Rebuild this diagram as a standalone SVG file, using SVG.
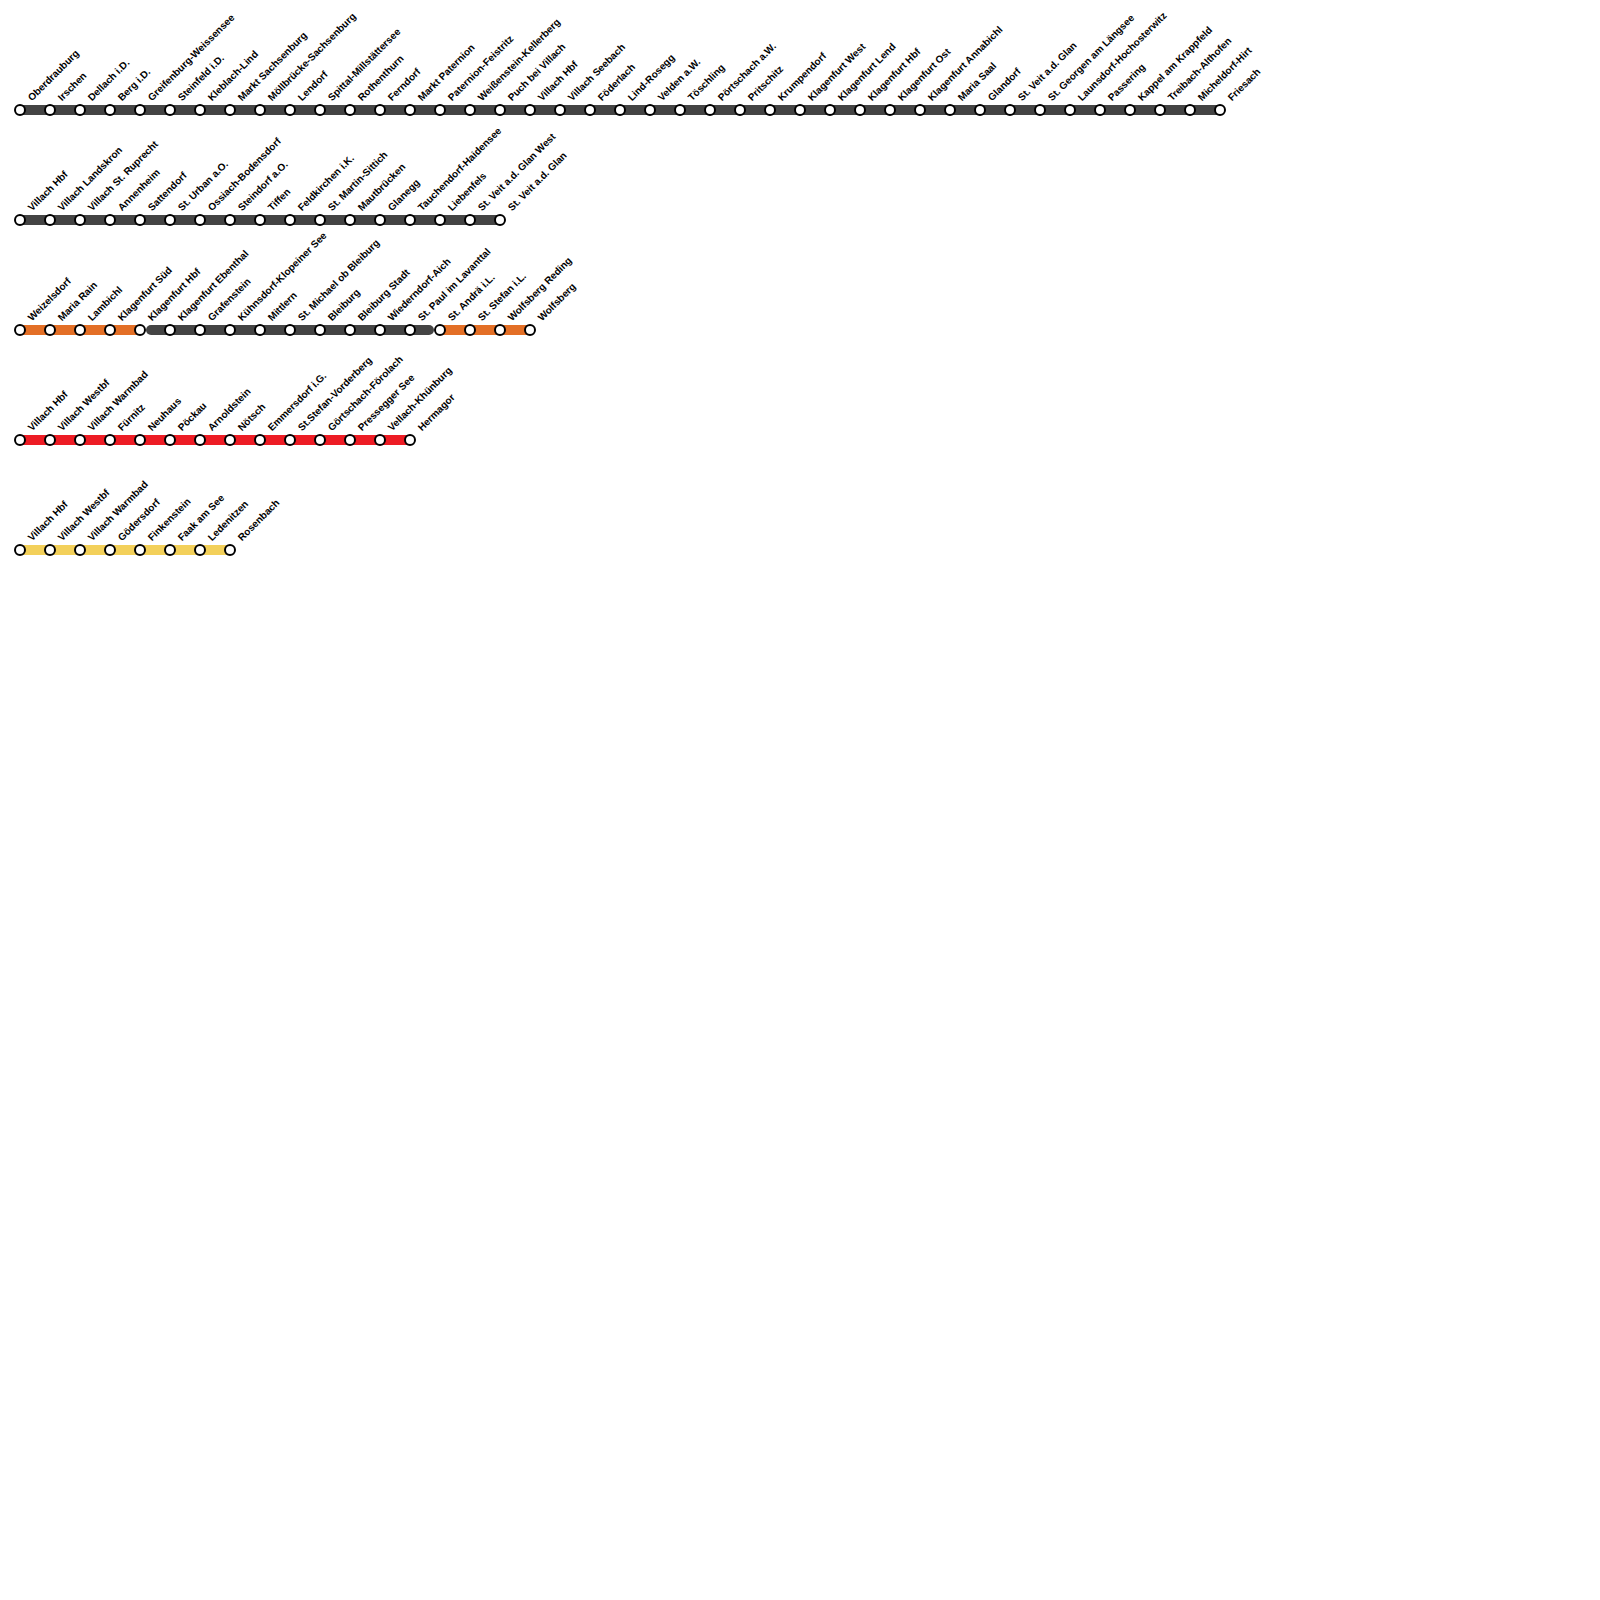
<svg xmlns="http://www.w3.org/2000/svg" width="1600" height="1600" viewBox="0 0 1600 1600">
<style>
.c{fill:none;stroke-width:10}
.d{stroke:#444}
.o{stroke:#e36f26}
.r{stroke:#ed1c24}
.y{stroke:#f3d05a}
.s circle{fill:#fff;stroke:#000;stroke-width:2;r:5px}
.s text{font-family:"Liberation Sans",Arial,sans-serif;font-size:10px;font-weight:700;fill:#000;text-rendering:geometricPrecision}
rect{fill:#fff}
</style>
<rect width="1600" height="1600"/>
<g id="connectors">
<path class="c d" d="M20 110H1220"/>
<path class="c d" d="M20 220H500"/>
<path class="c o" d="M20 330H140"/>
<path class="c d" stroke-linecap="round" d="M151 330H429"/>
<path class="c o" d="M440 330H530"/>
<path class="c r" d="M20 440H410"/>
<path class="c y" d="M20 550H230"/>
</g>
<g id="line1" class="s">
<g id="n1-0"><circle cx="20" cy="110"/><text transform="translate(32 101.5) rotate(-45)">Oberdrauburg</text></g>
<g id="n1-1"><circle cx="50" cy="110"/><text transform="translate(62 101.5) rotate(-45)">Irschen</text></g>
<g id="n1-2"><circle cx="80" cy="110"/><text transform="translate(92 101.5) rotate(-45)">Dellach i.D.</text></g>
<g id="n1-3"><circle cx="110" cy="110"/><text transform="translate(122 101.5) rotate(-45)">Berg i.D.</text></g>
<g id="n1-4"><circle cx="140" cy="110"/><text transform="translate(152 101.5) rotate(-45)">Greifenburg-Weissensee</text></g>
<g id="n1-5"><circle cx="170" cy="110"/><text transform="translate(182 101.5) rotate(-45)">Steinfeld i.D.</text></g>
<g id="n1-6"><circle cx="200" cy="110"/><text transform="translate(212 101.5) rotate(-45)">Kleblach-Lind</text></g>
<g id="n1-7"><circle cx="230" cy="110"/><text transform="translate(242 101.5) rotate(-45)">Markt Sachsenburg</text></g>
<g id="n1-8"><circle cx="260" cy="110"/><text transform="translate(272 101.5) rotate(-45)">Möllbrücke-Sachsenburg</text></g>
<g id="n1-9"><circle cx="290" cy="110"/><text transform="translate(302 101.5) rotate(-45)">Lendorf</text></g>
<g id="n1-10"><circle cx="320" cy="110"/><text transform="translate(332 101.5) rotate(-45)">Spittal-Millstättersee</text></g>
<g id="n1-11"><circle cx="350" cy="110"/><text transform="translate(362 101.5) rotate(-45)">Rothenthurn</text></g>
<g id="n1-12"><circle cx="380" cy="110"/><text transform="translate(392 101.5) rotate(-45)">Ferndorf</text></g>
<g id="n1-13"><circle cx="410" cy="110"/><text transform="translate(422 101.5) rotate(-45)">Markt Paternion</text></g>
<g id="n1-14"><circle cx="440" cy="110"/><text transform="translate(452 101.5) rotate(-45)">Paternion-Feistritz</text></g>
<g id="n1-15"><circle cx="470" cy="110"/><text transform="translate(482 101.5) rotate(-45)">Weißenstein-Kellerberg</text></g>
<g id="n1-16"><circle cx="500" cy="110"/><text transform="translate(512 101.5) rotate(-45)">Puch bei Villach</text></g>
<g id="n1-17"><circle cx="530" cy="110"/><text transform="translate(542 101.5) rotate(-45)">Villach Hbf</text></g>
<g id="n1-18"><circle cx="560" cy="110"/><text transform="translate(572 101.5) rotate(-45)">Villach Seebach</text></g>
<g id="n1-19"><circle cx="590" cy="110"/><text transform="translate(602 101.5) rotate(-45)">Föderlach</text></g>
<g id="n1-20"><circle cx="620" cy="110"/><text transform="translate(632 101.5) rotate(-45)">Lind-Rosegg</text></g>
<g id="n1-21"><circle cx="650" cy="110"/><text transform="translate(662 101.5) rotate(-45)">Velden a.W.</text></g>
<g id="n1-22"><circle cx="680" cy="110"/><text transform="translate(692 101.5) rotate(-45)">Töschling</text></g>
<g id="n1-23"><circle cx="710" cy="110"/><text transform="translate(722 101.5) rotate(-45)">Pörtschach a.W.</text></g>
<g id="n1-24"><circle cx="740" cy="110"/><text transform="translate(752 101.5) rotate(-45)">Pritschitz</text></g>
<g id="n1-25"><circle cx="770" cy="110"/><text transform="translate(782 101.5) rotate(-45)">Krumpendorf</text></g>
<g id="n1-26"><circle cx="800" cy="110"/><text transform="translate(812 101.5) rotate(-45)">Klagenfurt West</text></g>
<g id="n1-27"><circle cx="830" cy="110"/><text transform="translate(842 101.5) rotate(-45)">Klagenfurt Lend</text></g>
<g id="n1-28"><circle cx="860" cy="110"/><text transform="translate(872 101.5) rotate(-45)">Klagenfurt Hbf</text></g>
<g id="n1-29"><circle cx="890" cy="110"/><text transform="translate(902 101.5) rotate(-45)">Klagenfurt Ost</text></g>
<g id="n1-30"><circle cx="920" cy="110"/><text transform="translate(932 101.5) rotate(-45)">Klagenfurt Annabichl</text></g>
<g id="n1-31"><circle cx="950" cy="110"/><text transform="translate(962 101.5) rotate(-45)">Maria Saal</text></g>
<g id="n1-32"><circle cx="980" cy="110"/><text transform="translate(992 101.5) rotate(-45)">Glandorf</text></g>
<g id="n1-33"><circle cx="1010" cy="110"/><text transform="translate(1022 101.5) rotate(-45)">St. Veit a.d. Glan</text></g>
<g id="n1-34"><circle cx="1040" cy="110"/><text transform="translate(1052 101.5) rotate(-45)">St. Georgen am Längsee</text></g>
<g id="n1-35"><circle cx="1070" cy="110"/><text transform="translate(1082 101.5) rotate(-45)">Launsdorf-Hochosterwitz</text></g>
<g id="n1-36"><circle cx="1100" cy="110"/><text transform="translate(1112 101.5) rotate(-45)">Passering</text></g>
<g id="n1-37"><circle cx="1130" cy="110"/><text transform="translate(1142 101.5) rotate(-45)">Kappel am Krappfeld</text></g>
<g id="n1-38"><circle cx="1160" cy="110"/><text transform="translate(1172 101.5) rotate(-45)">Treibach-Althofen</text></g>
<g id="n1-39"><circle cx="1190" cy="110"/><text transform="translate(1202 101.5) rotate(-45)">Micheldorf-Hirt</text></g>
<g id="n1-40"><circle cx="1220" cy="110"/><text transform="translate(1232 101.5) rotate(-45)">Friesach</text></g>
</g>
<g id="line2" class="s">
<g id="n2-0"><circle cx="20" cy="220"/><text transform="translate(32 211.5) rotate(-45)">Villach Hbf</text></g>
<g id="n2-1"><circle cx="50" cy="220"/><text transform="translate(62 211.5) rotate(-45)">Villach Landskron</text></g>
<g id="n2-2"><circle cx="80" cy="220"/><text transform="translate(92 211.5) rotate(-45)">Villach St. Ruprecht</text></g>
<g id="n2-3"><circle cx="110" cy="220"/><text transform="translate(122 211.5) rotate(-45)">Annenheim</text></g>
<g id="n2-4"><circle cx="140" cy="220"/><text transform="translate(152 211.5) rotate(-45)">Sattendorf</text></g>
<g id="n2-5"><circle cx="170" cy="220"/><text transform="translate(182 211.5) rotate(-45)">St. Urban a.O.</text></g>
<g id="n2-6"><circle cx="200" cy="220"/><text transform="translate(212 211.5) rotate(-45)">Ossiach-Bodensdorf</text></g>
<g id="n2-7"><circle cx="230" cy="220"/><text transform="translate(242 211.5) rotate(-45)">Steindorf a.O.</text></g>
<g id="n2-8"><circle cx="260" cy="220"/><text transform="translate(272 211.5) rotate(-45)">Tiffen</text></g>
<g id="n2-9"><circle cx="290" cy="220"/><text transform="translate(302 211.5) rotate(-45)">Feldkirchen i.K.</text></g>
<g id="n2-10"><circle cx="320" cy="220"/><text transform="translate(332 211.5) rotate(-45)">St. Martin-Sittich</text></g>
<g id="n2-11"><circle cx="350" cy="220"/><text transform="translate(362 211.5) rotate(-45)">Mautbrücken</text></g>
<g id="n2-12"><circle cx="380" cy="220"/><text transform="translate(392 211.5) rotate(-45)">Glanegg</text></g>
<g id="n2-13"><circle cx="410" cy="220"/><text transform="translate(422 211.5) rotate(-45)">Tauchendorf-Haidensee</text></g>
<g id="n2-14"><circle cx="440" cy="220"/><text transform="translate(452 211.5) rotate(-45)">Liebenfels</text></g>
<g id="n2-15"><circle cx="470" cy="220"/><text transform="translate(482 211.5) rotate(-45)">St. Veit a.d. Glan West</text></g>
<g id="n2-16"><circle cx="500" cy="220"/><text transform="translate(512 211.5) rotate(-45)">St. Veit a.d. Glan</text></g>
</g>
<g id="line3" class="s">
<g id="n3-0"><circle cx="20" cy="330"/><text transform="translate(32 321.5) rotate(-45)">Weizelsdorf</text></g>
<g id="n3-1"><circle cx="50" cy="330"/><text transform="translate(62 321.5) rotate(-45)">Maria Rain</text></g>
<g id="n3-2"><circle cx="80" cy="330"/><text transform="translate(92 321.5) rotate(-45)">Lambichl</text></g>
<g id="n3-3"><circle cx="110" cy="330"/><text transform="translate(122 321.5) rotate(-45)">Klagenfurt Süd</text></g>
<g id="n3-4"><circle cx="140" cy="330"/><text transform="translate(152 321.5) rotate(-45)">Klagenfurt Hbf</text></g>
<g id="n3-5"><circle cx="170" cy="330"/><text transform="translate(182 321.5) rotate(-45)">Klagenfurt Ebenthal</text></g>
<g id="n3-6"><circle cx="200" cy="330"/><text transform="translate(212 321.5) rotate(-45)">Grafenstein</text></g>
<g id="n3-7"><circle cx="230" cy="330"/><text transform="translate(242 321.5) rotate(-45)">Kühnsdorf-Klopeiner See</text></g>
<g id="n3-8"><circle cx="260" cy="330"/><text transform="translate(272 321.5) rotate(-45)">Mittlern</text></g>
<g id="n3-9"><circle cx="290" cy="330"/><text transform="translate(302 321.5) rotate(-45)">St. Michael ob Bleiburg</text></g>
<g id="n3-10"><circle cx="320" cy="330"/><text transform="translate(332 321.5) rotate(-45)">Bleiburg</text></g>
<g id="n3-11"><circle cx="350" cy="330"/><text transform="translate(362 321.5) rotate(-45)">Bleiburg Stadt</text></g>
<g id="n3-12"><circle cx="380" cy="330"/><text transform="translate(392 321.5) rotate(-45)">Wiederndorf-Aich</text></g>
<g id="n3-13"><circle cx="410" cy="330"/><text transform="translate(422 321.5) rotate(-45)">St. Paul im Lavanttal</text></g>
<g id="n3-14"><circle cx="440" cy="330"/><text transform="translate(452 321.5) rotate(-45)">St. Andrä i.L.</text></g>
<g id="n3-15"><circle cx="470" cy="330"/><text transform="translate(482 321.5) rotate(-45)">St. Stefan i.L.</text></g>
<g id="n3-16"><circle cx="500" cy="330"/><text transform="translate(512 321.5) rotate(-45)">Wolfsberg Reding</text></g>
<g id="n3-17"><circle cx="530" cy="330"/><text transform="translate(542 321.5) rotate(-45)">Wolfsberg</text></g>
</g>
<g id="line4" class="s">
<g id="n4-0"><circle cx="20" cy="440"/><text transform="translate(32 431.5) rotate(-45)">Villach Hbf</text></g>
<g id="n4-1"><circle cx="50" cy="440"/><text transform="translate(62 431.5) rotate(-45)">Villach Westbf</text></g>
<g id="n4-2"><circle cx="80" cy="440"/><text transform="translate(92 431.5) rotate(-45)">Villach Warmbad</text></g>
<g id="n4-3"><circle cx="110" cy="440"/><text transform="translate(122 431.5) rotate(-45)">Fürnitz</text></g>
<g id="n4-4"><circle cx="140" cy="440"/><text transform="translate(152 431.5) rotate(-45)">Neuhaus</text></g>
<g id="n4-5"><circle cx="170" cy="440"/><text transform="translate(182 431.5) rotate(-45)">Pöckau</text></g>
<g id="n4-6"><circle cx="200" cy="440"/><text transform="translate(212 431.5) rotate(-45)">Arnoldstein</text></g>
<g id="n4-7"><circle cx="230" cy="440"/><text transform="translate(242 431.5) rotate(-45)">Nötsch</text></g>
<g id="n4-8"><circle cx="260" cy="440"/><text transform="translate(272 431.5) rotate(-45)">Emmersdorf i.G.</text></g>
<g id="n4-9"><circle cx="290" cy="440"/><text transform="translate(302 431.5) rotate(-45)">St.Stefan-Vorderberg</text></g>
<g id="n4-10"><circle cx="320" cy="440"/><text transform="translate(332 431.5) rotate(-45)">Görtschach-Förolach</text></g>
<g id="n4-11"><circle cx="350" cy="440"/><text transform="translate(362 431.5) rotate(-45)">Pressegger See</text></g>
<g id="n4-12"><circle cx="380" cy="440"/><text transform="translate(392 431.5) rotate(-45)">Vellach-Khünburg</text></g>
<g id="n4-13"><circle cx="410" cy="440"/><text transform="translate(422 431.5) rotate(-45)">Hermagor</text></g>
</g>
<g id="line5" class="s">
<g id="n5-0"><circle cx="20" cy="550"/><text transform="translate(32 541.5) rotate(-45)">Villach Hbf</text></g>
<g id="n5-1"><circle cx="50" cy="550"/><text transform="translate(62 541.5) rotate(-45)">Villach Westbf</text></g>
<g id="n5-2"><circle cx="80" cy="550"/><text transform="translate(92 541.5) rotate(-45)">Villach Warmbad</text></g>
<g id="n5-3"><circle cx="110" cy="550"/><text transform="translate(122 541.5) rotate(-45)">Gödersdorf</text></g>
<g id="n5-4"><circle cx="140" cy="550"/><text transform="translate(152 541.5) rotate(-45)">Finkenstein</text></g>
<g id="n5-5"><circle cx="170" cy="550"/><text transform="translate(182 541.5) rotate(-45)">Faak am See</text></g>
<g id="n5-6"><circle cx="200" cy="550"/><text transform="translate(212 541.5) rotate(-45)">Ledenitzen</text></g>
<g id="n5-7"><circle cx="230" cy="550"/><text transform="translate(242 541.5) rotate(-45)">Rosenbach</text></g>
</g>
</svg>
